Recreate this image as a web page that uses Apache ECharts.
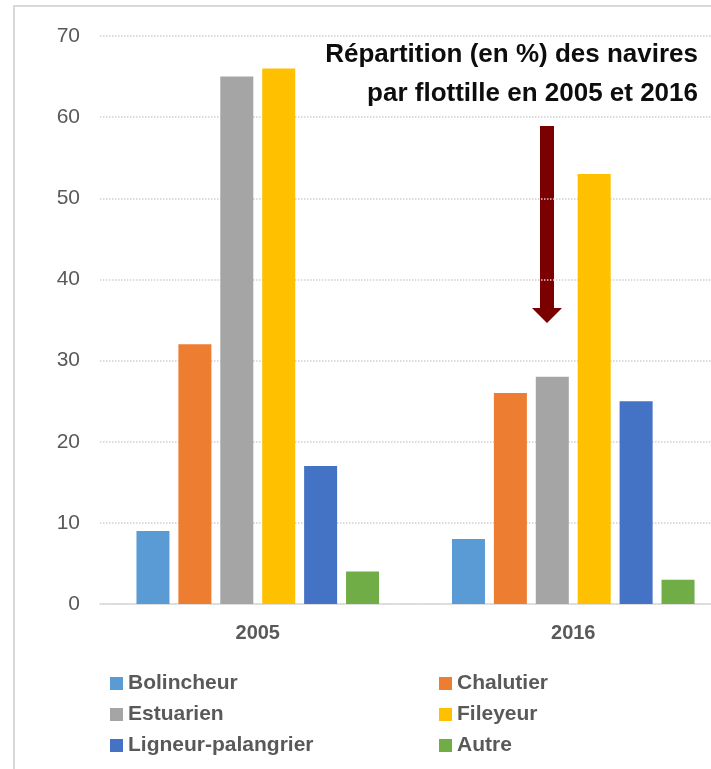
<!DOCTYPE html>
<html>
<head>
<meta charset="utf-8">
<script src="https://cdn.jsdelivr.net/npm/echarts@6/dist/echarts.min.js"></script>
<style>
  html, body { margin: 0; padding: 0; background: #fff; overflow: hidden; }
  /* le graphique déborde à droite comme dans l'original */
  #chart { width: 745px; height: 769px; }
</style>
</head>
<body>
<div id="chart"></div>
<script>
// données
var years = ['2005', '2016'];
var flottilles = ['Bolincheur', 'Chalutier', 'Estuarien', 'Fileyeur', 'Ligneur-palangrier', 'Autre'];
var bolincheur = [9, 8];
var chalutier = [32, 26];
var estuarien = [65, 28];
var fileyeur = [66, 53];
var ligneur = [17, 25];
var autre = [4, 3];
var couleurs = ['#5B9BD5', '#ED7D31', '#A5A5A5', '#FFC000', '#4472C4', '#70AD47'];
var titre = 'Répartition (en %) des navires\npar flottille en 2005 et 2016';

var valeurs = [bolincheur, chalutier, estuarien, fileyeur, ligneur, autre];

var chart = echarts.init(document.getElementById('chart'));

var series = flottilles.map(function (nom, i) {
    return {
        name: nom,
        type: 'bar',
        data: valeurs[i],
        barWidth: 33,
        barGap: '27%',
        itemStyle: { color: couleurs[i] }
    };
});

var legendText = {
    fontFamily: 'Liberation Sans',
    fontWeight: 'bold',
    fontSize: 21,
    color: '#595959',
    lineHeight: 20
};

chart.setOption({
    animation: false,
    backgroundColor: '#fff',
    grid: { left: 100, right: 14, top: 36, bottom: 165 },
    xAxis: {
        type: 'category',
        data: years,
        axisTick: { show: false },
        axisLine: { lineStyle: { color: '#d9d9d9', width: 1.5 } },
        axisLabel: {
            margin: 19,
            fontFamily: 'Liberation Sans',
            fontWeight: 'bold',
            fontSize: 20,
            color: '#595959'
        }
    },
    yAxis: {
        type: 'value',
        min: 0,
        max: 70,
        interval: 10,
        axisLine: { show: false },
        axisTick: { show: false },
        axisLabel: {
            margin: 20,
            fontFamily: 'Liberation Sans',
            fontSize: 21,
            color: '#595959'
        },
        splitLine: { lineStyle: { color: '#d0d0d0', type: 'dotted', width: 1.5 } }
    },
    legend: [
        {
            orient: 'vertical',
            left: 105,
            top: 668,
            itemWidth: 13,
            itemHeight: 13,
            itemGap: 10,
            icon: 'rect',
            data: ['Bolincheur', 'Estuarien', 'Ligneur-palangrier'],
            textStyle: legendText
        },
        {
            orient: 'vertical',
            left: 434,
            top: 668,
            itemWidth: 13,
            itemHeight: 13,
            itemGap: 10,
            icon: 'rect',
            data: ['Chalutier', 'Fileyeur', 'Autre'],
            textStyle: legendText
        }
    ],
    graphic: [
        {
            type: 'rect',
            silent: true,
            shape: { x: 14, y: 6, width: 760, height: 800 },
            style: { fill: null, stroke: '#d9d9d9', lineWidth: 2 }
        },
        {
            type: 'text',
            silent: true,
            x: 698,
            y: 35,
            style: {
                text: titre,
                textAlign: 'right',
                textVerticalAlign: 'top',
                fontFamily: 'Liberation Sans',
                fontWeight: 'bold',
                fontSize: 26,
                lineHeight: 39,
                fill: '#0d0d0d'
            }
        },
        {
            type: 'polygon',
            silent: true,
            shape: {
                points: [[540, 126], [554, 126], [554, 308], [562, 308], [547, 323], [532, 308], [540, 308]]
            },
            style: { fill: '#7B0000' }
        }
    ],
    series: series
});
</script>
</body>
</html>
